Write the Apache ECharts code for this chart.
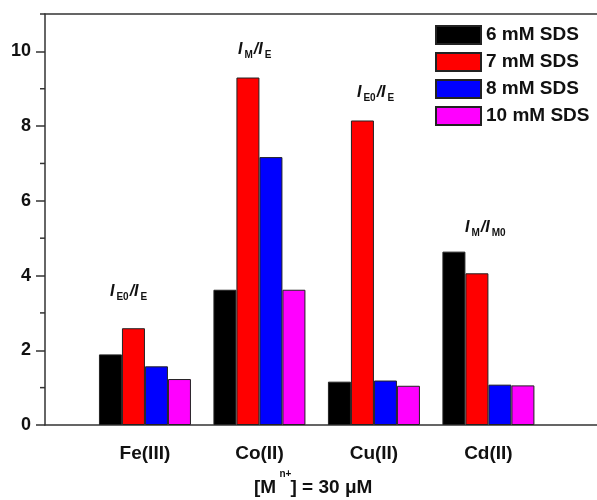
<!DOCTYPE html>
<html>
<head>
<meta charset="utf-8">
<script src="https://cdn.jsdelivr.net/npm/echarts@6/dist/echarts.min.js"></script>
<style>
html,body{margin:0;padding:0;background:#fff;overflow:hidden;}
#chart{width:597px;height:500px;}
</style>
</head>
<body>
<div id="chart"></div>
<script>
const categories = ['Fe(III)', 'Co(II)', 'Cu(II)', 'Cd(II)'];
const seriesNames = ['6 mM SDS', '7 mM SDS', '8 mM SDS', '10 mM SDS'];
const sds6 = [1.89, 3.62, 1.16, 4.64];
const sds7 = [2.59, 9.30, 8.15, 4.06];
const sds8 = [1.57, 7.17, 1.19, 1.08];
const sds10 = [1.23, 3.62, 1.05, 1.06];
const yMajorTicks = [0, 2, 4, 6, 8, 10];
const yMinorTicks = [1, 3, 5, 7, 9, 11];
const colors = ['#000000', '#ff0000', '#0000ff', '#ff00ff'];
const X_MIN = 0.127, X_MAX = 5.062;

const FONT = '"Liberation Sans", Arial, sans-serif';
const chart = echarts.init(document.getElementById('chart'));

const barSeries = [sds6, sds7, sds8, sds10].map((arr, k) => ({
  name: seriesNames[k],
  type: 'bar',
  barWidth: 23,
  barGap: '0%',
  data: arr.map((v, i) => [i + 1, v]),
  itemStyle: { color: colors[k], borderColor: '#222', borderWidth: 1 }
}));

// minor ticks on the y axis, placed through the axis scale
const minorTickSeries = {
  type: 'custom',
  silent: true,
  clip: false,
  encode: { x: 0, y: 1 },
  data: yMinorTicks.map(v => [X_MIN, v]),
  renderItem: function (params, api) {
    const p = api.coord([api.value(0), api.value(1)]);
    return {
      type: 'line',
      shape: { x1: p[0] - 5, y1: p[1], x2: p[0], y2: p[1] },
      style: { stroke: '#333', lineWidth: 1.5 }
    };
  }
};

const mctx = document.createElement('canvas').getContext('2d');
function measure(s, size, italic) {
  mctx.font = (italic ? 'italic ' : '') + 'bold ' + size + 'px "Liberation Sans", Arial, sans-serif';
  return mctx.measureText(s).width;
}
function txt(x, y, s, size, italic) {
  return {
    type: 'text', x: x, y: y,
    style: {
      text: s, fontFamily: FONT, fontSize: size, fontWeight: 'bold',
      fontStyle: italic ? 'italic' : 'normal', fill: '#111',
      align: 'left', verticalAlign: 'middle'
    }
  };
}
const MAIN = 16, SUB = 10;
function annot(x0, yc, sub1, sub2) {
  const ys = yc + 5.5;
  const x1 = x0 + measure('I', MAIN, true) + 2;
  const x2 = x1 + measure(sub1, SUB, false) + 1;
  const x3 = x2 + measure('/I', MAIN, true) + 2;
  return {
    type: 'group',
    children: [
      txt(x0, yc, 'I', MAIN, true),
      txt(x1, ys, sub1, SUB, false),
      txt(x2, yc, '/I', MAIN, true),
      txt(x3, ys, sub2, SUB, false)
    ]
  };
}

const axisLineStyle = { color: '#333', width: 1.5 };

chart.setOption({
  backgroundColor: '#fff',
  animation: false,
  grid: { left: 45, top: 14, width: 565, bottom: 75, show: false, outerBoundsMode: 'none', containLabel: false },
  legend: {
    orient: 'vertical',
    left: 435,
    top: 25,
    padding: 0,
    itemWidth: 45,
    itemHeight: 18,
    itemGap: 7,
    icon: 'rect',
    textStyle: { fontFamily: FONT, fontSize: 19, fontWeight: 'bold', color: '#111', lineHeight: 18 },
    data: seriesNames
  },
  xAxis: [{
    type: 'value',
    min: X_MIN,
    max: X_MAX,
    axisLine: { show: true, lineStyle: axisLineStyle },
    axisTick: { show: false },
    splitLine: { show: false },
    axisLabel: {
      customValues: [1, 2, 3, 4],
      formatter: v => categories[Math.round(v) - 1],
      fontFamily: FONT, fontSize: 19, fontWeight: 'bold', color: '#111', margin: 19
    }
  }, {
    type: 'value',
    position: 'top',
    min: X_MIN,
    max: X_MAX,
    axisLine: { show: true, onZero: false, lineStyle: axisLineStyle },
    axisTick: { show: false },
    splitLine: { show: false },
    axisLabel: { show: false }
  }],
  yAxis: {
    type: 'value',
    min: 0,
    max: 11,
    interval: 2,
    axisLine: { show: true, lineStyle: axisLineStyle },
    axisTick: { show: true, customValues: yMajorTicks, length: 9, lineStyle: axisLineStyle },
    splitLine: { show: false },
    axisLabel: {
      showMaxLabel: false,
      fontFamily: FONT, fontSize: 18, fontWeight: 'bold', color: '#111', margin: 14
    }
  },
  graphic: [
    annot(110, 291.7, 'E0', 'E'),
    annot(238, 50, 'M', 'E'),
    annot(357, 92.5, 'E0', 'E'),
    annot(465, 228, 'M', 'M0'),
    txt(254, 487.3, '[M', 19, false),
    txt(279.5, 474, 'n+', 10, false),
    txt(290.5, 487.3, '] = 30 μM', 19, false)
  ],
  series: barSeries.concat([minorTickSeries])
});
</script>
</body>
</html>
